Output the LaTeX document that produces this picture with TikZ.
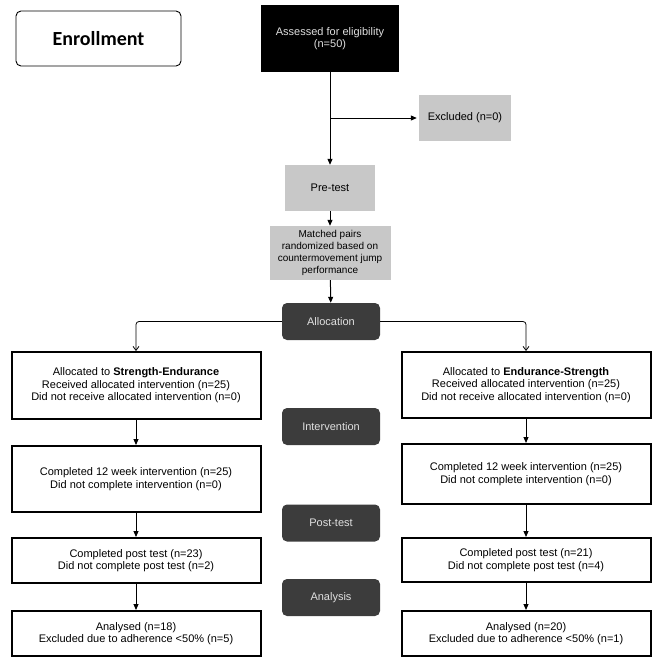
\documentclass[tikz,border=0pt]{standalone}
\usepackage{fontspec}
\setmainfont{Liberation Sans}
\newfontfamily\enrollfont{Carlito}
\usetikzlibrary{arrows.meta}
\definecolor{lightbox}{HTML}{C8C8C8}
\definecolor{darkbox}{HTML}{3C3C3C}
\definecolor{darktext}{HTML}{E0E0E0}
\begin{document}
\begin{tikzpicture}[x=1pt,y=-1pt,
  base/.style={align=center,inner sep=1pt,font=\fontsize{11}{12.5}\selectfont},
  greybox/.style={base,fill=lightbox},
  phase/.style={base,fill=darkbox,text=darktext,rounded corners=5pt,minimum width=98pt,minimum height=37pt},
  group/.style={base,draw=black,line width=2pt,minimum width=249pt},
  arr/.style={-{Triangle[length=6pt,width=5pt]},line width=1pt},
  openarr/.style={-{Straight Barb[length=4pt,width=6pt]},line width=0.8pt,rounded corners=3pt}]
\useasboundingbox (0,0) rectangle (669,662);
\node[draw=black,line width=0.9pt,rounded corners=5pt,minimum width=165pt,minimum height=55pt,font=\enrollfont\bfseries\fontsize{20}{24}\selectfont] (enroll) at (98.5,38.5) {Enrollment};
\node[base,fill=black,text=darktext,minimum width=138pt,minimum height=67pt] (assess) at (330,38.5) {Assessed for eligibility\\(n=50)};
\node[greybox,minimum width=92pt,minimum height=46pt] (excl) at (465,118) {Excluded (n=0)};
\node[greybox,minimum width=90pt,minimum height=46pt] (pretest) at (330,188) {Pre-test};
\node[greybox,minimum width=121pt,minimum height=54pt,font=\fontsize{10}{12}\selectfont] (matched) at (330,253) {Matched pairs\\randomized based on\\countermovement jump\\performance};
\node[phase] (alloc) at (331,321.5) {Allocation};
\node[phase] (interv) at (331,426.5) {Intervention};
\node[phase] (post) at (331,523) {Post-test};
\node[phase] (analysis) at (331,597.5) {Analysis};
\node[group,minimum height=67pt] (L1) at (136,385.5) {Allocated to \textbf{Strength-Endurance}\\Received allocated intervention (n=25)\\Did not receive allocated intervention (n=0)};
\node[group,minimum height=66pt] (L2) at (136,479) {Completed 12 week intervention (n=25)\\Did not complete intervention (n=0)};
\node[group,minimum height=45pt] (L3) at (136,560.5) {Completed post test (n=23)\\Did not complete post test (n=2)};
\node[group,minimum height=45pt] (L4) at (136,633.5) {Analysed (n=18)\\Excluded due to adherence <50\% (n=5)};
\node[group,minimum height=66pt] (R1) at (526,385) {Allocated to \textbf{Endurance-Strength}\\Received allocated intervention (n=25)\\Did not receive allocated intervention (n=0)};
\node[group,minimum height=60pt] (R2) at (526,474) {Completed 12 week intervention (n=25)\\Did not complete intervention (n=0)};
\node[group,minimum height=44pt] (R3) at (526,560) {Completed post test (n=21)\\Did not complete post test (n=4)};
\node[group,minimum height=45pt] (R4) at (526,633.5) {Analysed (n=20)\\Excluded due to adherence <50\% (n=1)};
\draw[arr] (assess) -- (pretest);
\coordinate (branch) at (assess.south |- excl.west);
\draw[arr,shorten >=2pt] (branch) -- (excl.west);
\draw[arr] (pretest) -- (matched);
\draw[arr] (matched) -- (alloc);
\draw[openarr] (alloc.west) -| (L1.north);
\draw[openarr] (alloc.east) -| (R1.north);
\draw[arr] (L1) -- (L2);
\draw[arr] (L2) -- (L3);
\draw[arr] (L3) -- (L4);
\draw[arr] (R1) -- (R2);
\draw[arr] (R2) -- (R3);
\draw[arr] (R3) -- (R4);
\end{tikzpicture}
\end{document}
